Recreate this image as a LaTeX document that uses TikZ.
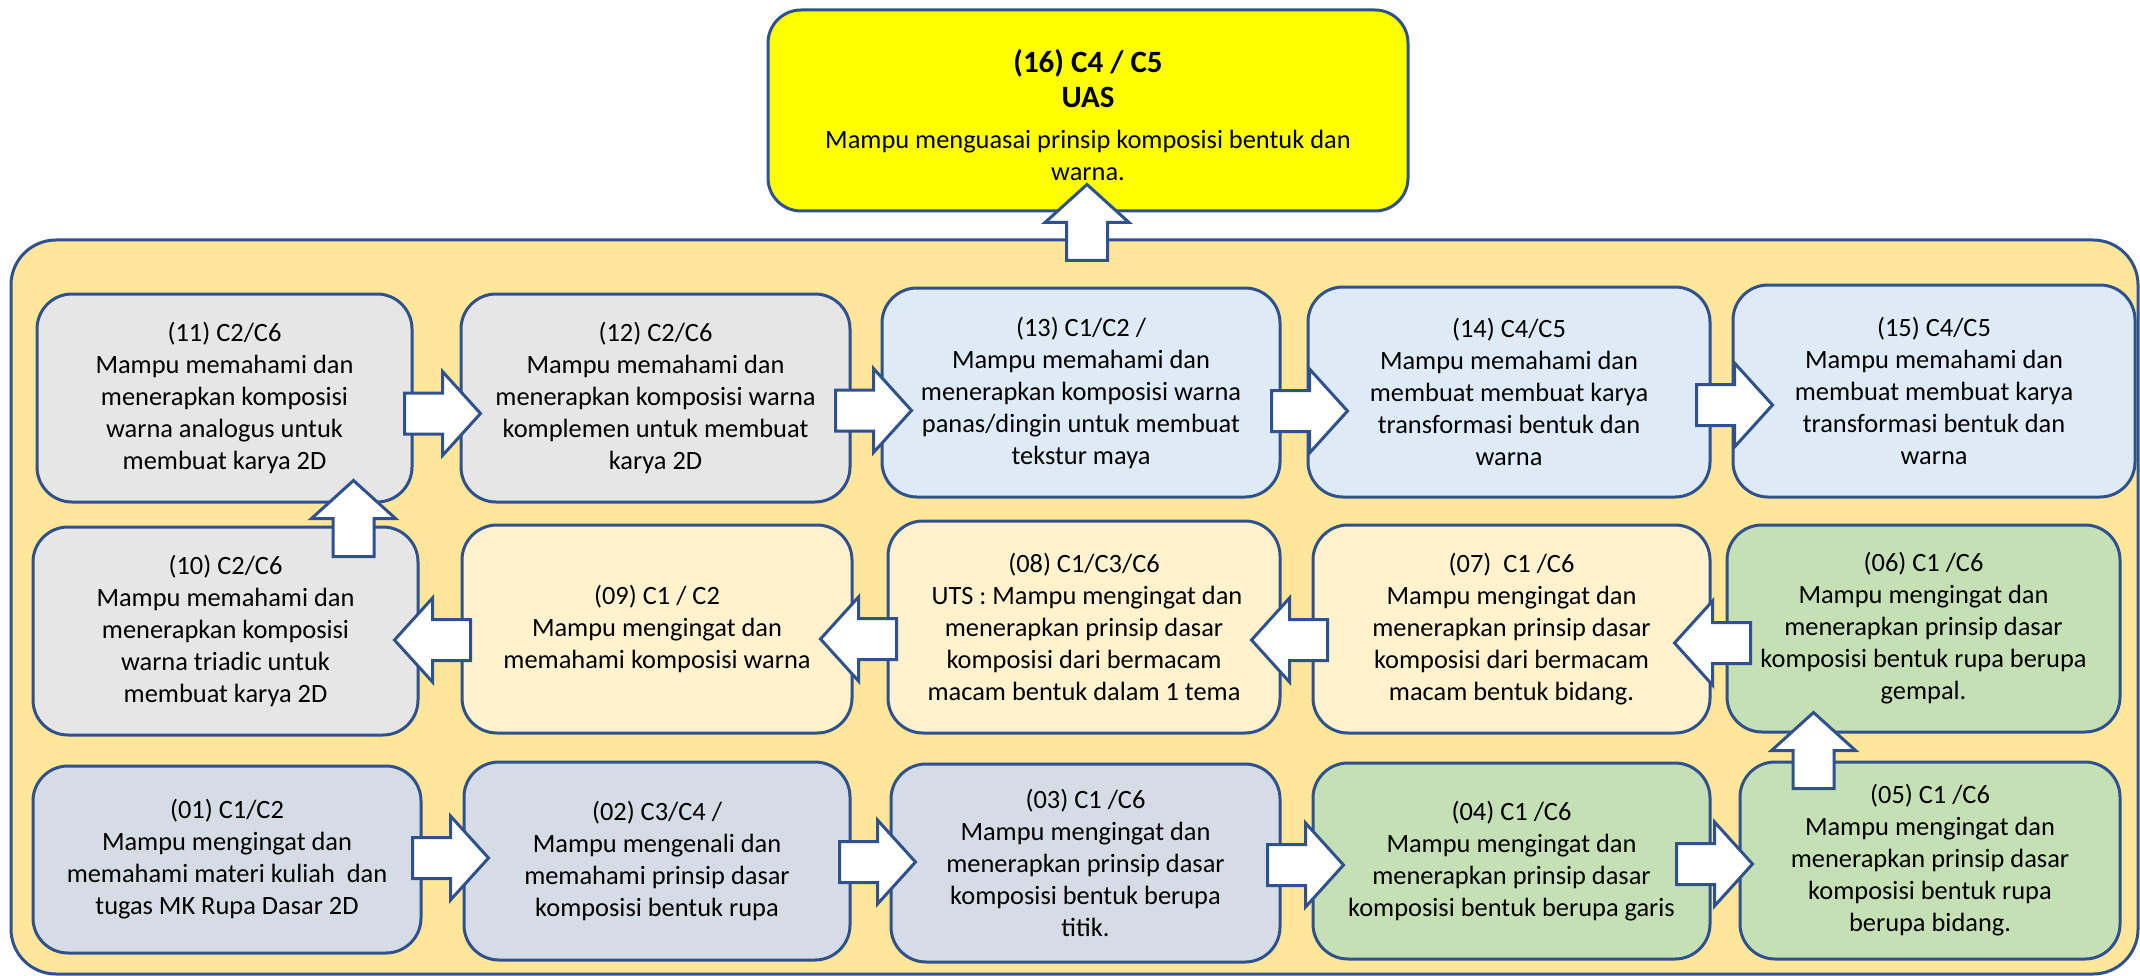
\documentclass[tikz,border=0pt]{standalone}
\usepackage{fontspec}
\setmainfont{Carlito}
\usetikzlibrary{calc}
\definecolor{edge}{RGB}{47,82,143}
\definecolor{cont}{RGB}{255,230,153}
\definecolor{lgrey}{RGB}{231,230,230}
\definecolor{lblue}{RGB}{222,235,247}
\definecolor{lyel}{RGB}{255,242,204}
\definecolor{lgreen}{RGB}{197,224,180}
\definecolor{bgrey}{RGB}{214,220,229}
\definecolor{topyel}{RGB}{255,255,0}
\newcommand\bodyfnt{\fontsize{26.4pt}{32pt}\selectfont}
\newcommand\headfnt{\fontsize{31pt}{34pt}\selectfont\bfseries}
\newcommand\mkbox[7]{\node[rbox, fill=#2, minimum width={#5-#3}, minimum height={#6-#4}] (#1) at ({(#3+#5)/2},{(#4+#6)/2}) {#7};}
\tikzset{
  rbox/.style={draw=edge, line width=3pt, rounded corners=35pt, inner sep=0pt, align=center, font=\bodyfnt, text=black},
  barrow/.style={draw=edge, fill=white, line width=3pt, line join=miter},
  pics/barr/.style={code={\draw[barrow] (0,-20.5)--(38,-20.5)--(38,-42)--(76,0)--(38,42)--(38,20.5)--(0,20.5)--cycle;}}
}
\begin{document}
\begin{tikzpicture}[x=1pt,y=-1pt]
\useasboundingbox (0,0) rectangle (2140,976);
\fill[white] (0,0) rectangle (2140,976);
% container
\draw[draw=edge, fill=cont, line width=3pt, rounded corners=45pt] (11,240) rectangle (2138,974);
% top box
\node[rbox, fill=topyel, rounded corners=33pt, minimum width=640, minimum height=201] (n16) at (1088,110.5) {};
\node[align=center, inner sep=0pt, font=\bodyfnt, text=black] (n16t) at ($(n16.center)+(0,5)$)
 {{\headfnt (16) C4 / C5}\\[3pt]{\headfnt UAS}\\[9pt]Mampu menguasai prinsip komposisi bentuk dan\\warna.};
% row 1
\mkbox{n11}{lgrey}{37}{294}{412}{502}{(11) C2/C6\\Mampu memahami dan\\menerapkan komposisi\\warna analogus untuk\\membuat karya 2D}
\mkbox{n12}{lgrey}{461}{294}{850}{502}{(12) C2/C6\\Mampu memahami dan\\menerapkan komposisi warna\\komplemen untuk membuat\\karya 2D}
\mkbox{n13}{lblue}{882}{288}{1280}{497}{(13) C1/C2 /\\Mampu memahami dan\\menerapkan komposisi warna\\panas/dingin untuk membuat\\tekstur maya}
\mkbox{n14}{lblue}{1308}{287}{1710}{497}{(14) C4/C5\\Mampu memahami dan\\membuat membuat karya\\transformasi bentuk dan\\warna}
\mkbox{n15}{lblue}{1733}{285}{2135}{497}{(15) C4/C5\\Mampu memahami dan\\membuat membuat karya\\transformasi bentuk dan\\warna}
% row 2
\mkbox{n10}{lgrey}{33}{527}{418}{735}{(10) C2/C6\\Mampu memahami dan\\menerapkan komposisi\\warna triadic untuk\\membuat karya 2D}
\mkbox{n09}{lyel}{462}{525}{852}{733}{(09) C1 / C2\\Mampu mengingat dan\\memahami komposisi warna}
\mkbox{n08}{lyel}{888}{521}{1280}{733}{(08) C1/C3/C6\\\ UTS : Mampu mengingat dan\\menerapkan prinsip dasar\\komposisi dari bermacam\\macam bentuk dalam 1 tema}
\mkbox{n07}{lyel}{1313}{525}{1710}{733}{(07)\ \ C1 /C6\\Mampu mengingat dan\\menerapkan prinsip dasar\\komposisi dari bermacam\\macam bentuk bidang.}
\mkbox{n06}{lgreen}{1727}{525}{2120}{732}{(06) C1 /C6\\Mampu mengingat dan\\menerapkan prinsip dasar\\komposisi bentuk rupa berupa\\gempal.}
% row 3
\mkbox{n01}{bgrey}{33}{766}{421}{953}{(01) C1/C2\\Mampu mengingat dan\\memahami materi kuliah\ \ dan\\tugas MK Rupa Dasar 2D}
\mkbox{n02}{bgrey}{464}{762}{850}{960}{(02) C3/C4 /\\Mampu mengenali dan\\memahami prinsip dasar\\komposisi bentuk rupa}
\mkbox{n03}{bgrey}{891}{764}{1280}{962}{(03) C1 /C6\\Mampu mengingat dan\\menerapkan prinsip dasar\\komposisi bentuk berupa\\titik.}
\mkbox{n04}{lgreen}{1313}{763}{1710}{959}{(04) C1 /C6\\Mampu mengingat dan\\menerapkan prinsip dasar\\komposisi bentuk berupa garis}
\mkbox{n05}{lgreen}{1740}{762}{2120}{959}{(05) C1 /C6\\Mampu mengingat dan\\menerapkan prinsip dasar\\komposisi bentuk rupa\\berupa bidang.}
% arrows row 1 (right)
\pic at ($(n11.east)+(-9,15.5)$) {barr};
\pic at ($(n12.east)+(-16,12.5)$) {barr};
\pic at ($(n13.east)+(-10,18.5)$) {barr};
\pic at ($(n14.east)+(-15,13)$) {barr};
% arrows row 2 (left)
\pic[rotate=180] at ($(n09.west)+(10,11)$) {barr};
\pic[rotate=180] at ($(n08.west)+(10,12)$) {barr};
\pic[rotate=180] at ($(n07.west)+(16,11)$) {barr};
\pic[rotate=180] at ($(n06.west)+(25,14.5)$) {barr};
% arrows row 3 (right)
\pic at ($(n01.east)+(-10,-1.5)$) {barr};
\pic at ($(n02.east)+(-12,1)$) {barr};
\pic at ($(n03.east)+(-14,2)$) {barr};
\pic at ($(n04.east)+(-35,3)$) {barr};
% up arrows
\pic[rotate=90] at ($(n10.north east)+(-66,31)$) {barr};
\pic[rotate=90] at ($(n05.north west)+(75,28)$) {barr};
\pic[rotate=90] at ($(n16.south)+(-1,48)$) {barr};
\end{tikzpicture}
\end{document}
